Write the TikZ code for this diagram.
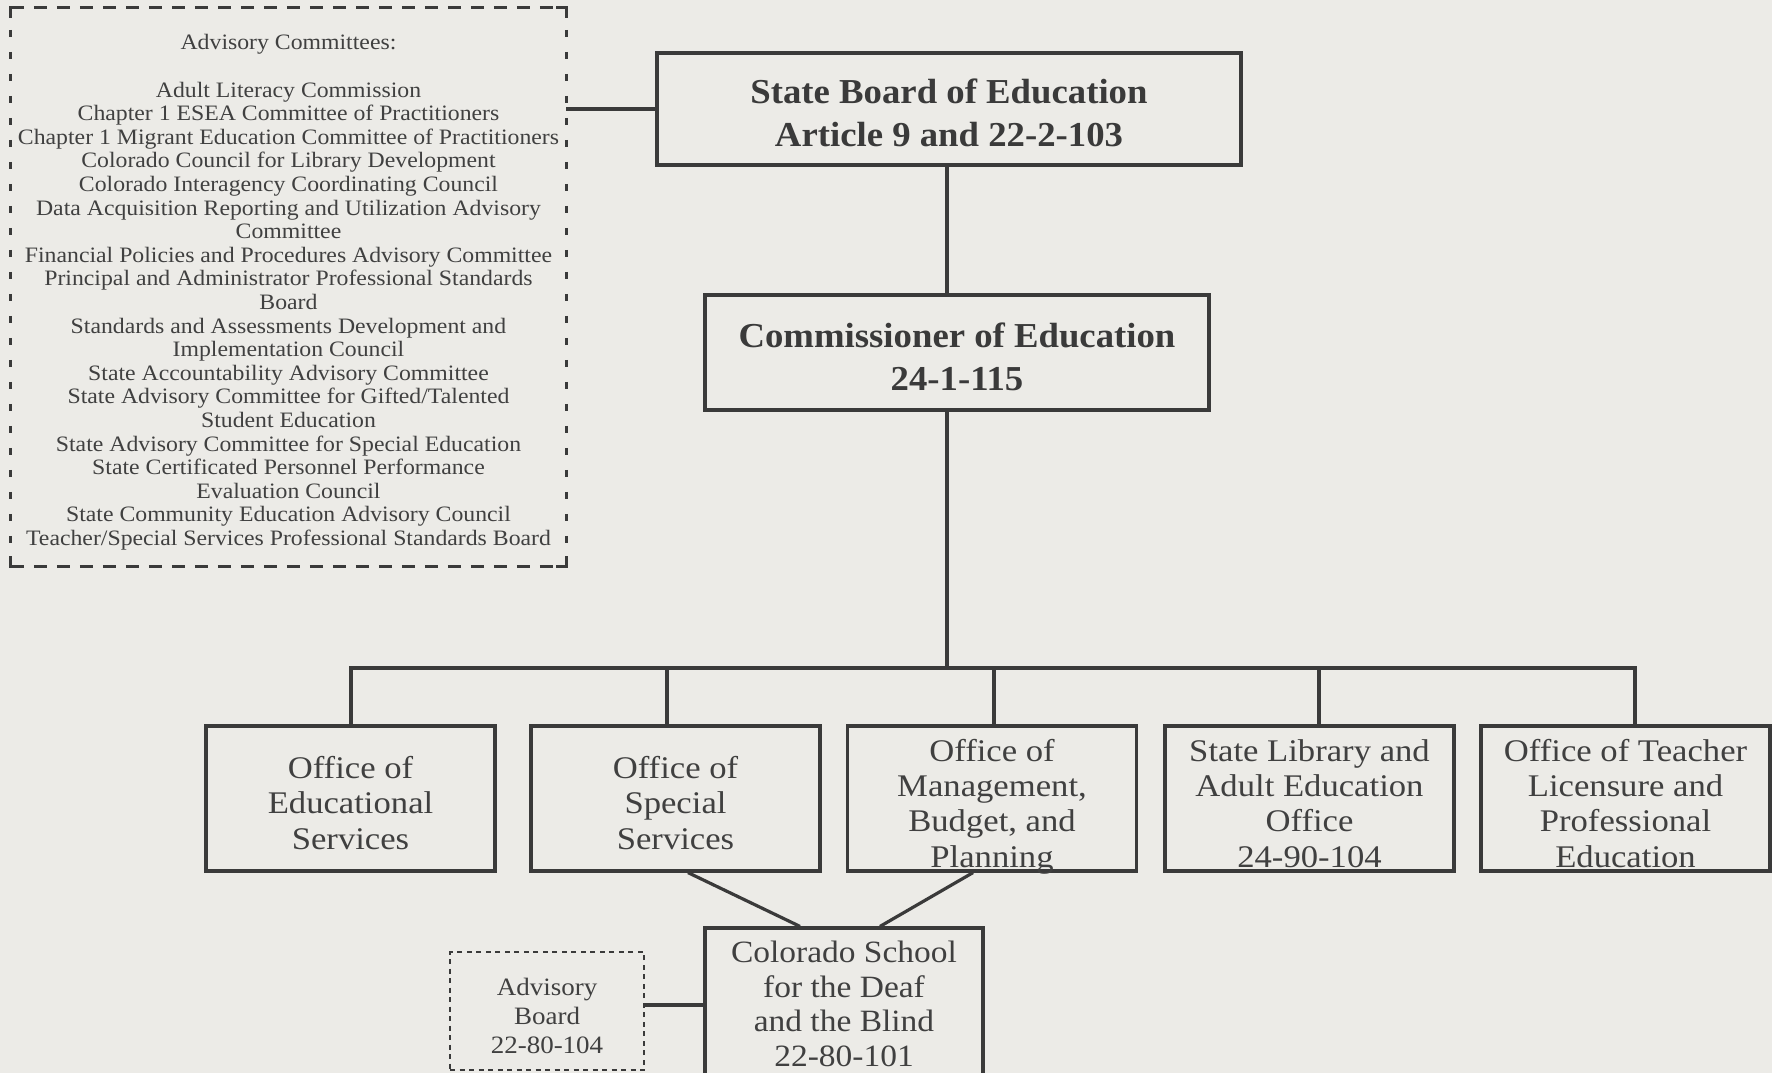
\documentclass[tikz,border=0pt]{standalone}
\usepackage{fontspec}
\setmainfont{Liberation Serif}
\newfontfamily\listfont[FakeStretch=1.08]{Liberation Serif}
\newfontfamily\boxfont[FakeStretch=1.08]{Liberation Serif}
\newfontfamily\officefont[FakeStretch=1.1]{Liberation Serif}
\newfontfamily\headfont[FakeStretch=1.05]{Liberation Serif}
\usetikzlibrary{calc}
\definecolor{paper}{RGB}{236,235,231}
\definecolor{ink}{RGB}{58,58,58}
\definecolor{txt}{RGB}{64,64,64}
\begin{document}
\begin{tikzpicture}[x=1pt,y=-1pt,
  solidbox/.style={draw=ink, line width=3.2pt, inner sep=0pt, align=center, text=txt},
  headbox/.style={solidbox, line width=3.8pt, text=ink, font=\headfont\bfseries\fontsize{35}{43}\selectfont},
  officebox/.style={solidbox, minimum width=289pt, minimum height=145pt, font=\officefont\fontsize{31.5}{35.3}\selectfont},
  threeline/.style={officebox, text height=111pt, text depth=10pt},
  fourline/.style={officebox, text height=139pt, text depth=2pt},
  link/.style={draw=ink, line width=3.2pt},
  longdash/.style={draw=ink, line width=3pt, dash pattern=on 13pt off 10pt},
  shortdash/.style={draw=ink, line width=3pt, dash pattern=on 7pt off 15pt},
  dotdash/.style={draw=ink, line width=2.8pt, dash pattern=on 5pt off 4.5pt}
]
\fill[paper] (0,0) rectangle (1772,1073);
\useasboundingbox (0,0) rectangle (1772,1073);
\clip (0,0) rectangle (1772,1073);

% advisory committees (dashed frame drawn below)
\node[inner sep=0pt, minimum width=555pt, minimum height=558pt, align=center, text=txt,
      font=\listfont\fontsize{22}{23.6}\selectfont, text height=527pt, text depth=10pt]
  (adv) at (288.5,287) {Advisory Committees:\\[23.6pt]
Adult Literacy Commission\\
Chapter 1 ESEA Committee of Practitioners\\
Chapter 1 Migrant Education Committee of Practitioners\\
Colorado Council for Library Development\\
Colorado Interagency Coordinating Council\\
Data Acquisition Reporting and Utilization Advisory\\
Committee\\
Financial Policies and Procedures Advisory Committee\\
Principal and Administrator Professional Standards\\
Board\\
Standards and Assessments Development and\\
Implementation Council\\
State Accountability Advisory Committee\\
State Advisory Committee for Gifted/Talented\\
Student Education\\
State Advisory Committee for Special Education\\
State Certificated Personnel Performance\\
Evaluation Council\\
State Community Education Advisory Council\\
Teacher/Special Services Professional Standards Board};
\draw[longdash] (adv.north west) -- (adv.north east);
\draw[longdash] (adv.south west) -- (adv.south east);
\draw[shortdash] (adv.north west) -- (adv.south west);
\draw[shortdash] (adv.north east) -- (adv.south east);
\draw[ink, line width=3pt] ([yshift=-10pt]adv.north west) -- (adv.north west) -- ([xshift=10pt]adv.north west);
\draw[ink, line width=3pt] ([yshift=-10pt]adv.north east) -- (adv.north east) -- ([xshift=-10pt]adv.north east);
\draw[ink, line width=3pt] ([yshift=10pt]adv.south west) -- (adv.south west) -- ([xshift=10pt]adv.south west);
\draw[ink, line width=3pt] ([yshift=10pt]adv.south east) -- (adv.south east) -- ([xshift=-10pt]adv.south east);

% top boxes
\node[headbox, minimum width=584pt, minimum height=112pt, text height=84pt, text depth=10pt]
  (sbe) at (949,109) {State Board of Education\\Article 9 and 22-2-103};
\node[headbox, minimum width=504pt, minimum height=115pt, text height=85pt, text depth=10pt]
  (com) at (957,352.5) {Commissioner of Education\\24-1-115};

% offices
\node[threeline] (ed)  at (350.5,798.5) {Office of\\Educational\\Services};
\node[threeline] (sp)  at (675.5,798.5) {Office of\\Special\\Services};
\node[fourline]  (mg)  at (992,798.5)   {Office of\\Management,\\Budget, and\\Planning};
\node[fourline]  (lib) at (1309.5,798.5) {State Library and\\Adult Education\\Office\\24-90-104};
\node[fourline]  (tch) at (1625.5,798.5) {Office of Teacher\\Licensure and\\Professional\\Education};

% school and its advisory board
\node[solidbox, minimum width=278pt, minimum height=182pt, font=\boxfont\fontsize{31}{34.5}\selectfont,
      text height=104pt, text depth=10pt]
  (cs) at (844,1019) {Colorado School\\for the Deaf\\and the Blind\\22-80-101};
\node[dotdash, inner sep=0pt, align=center, text=txt, minimum width=194pt, minimum height=118pt,
      font=\boxfont\fontsize{25}{29}\selectfont, text height=94pt, text depth=10pt]
  (advb) at (547,1011) {Advisory\\Board\\22-80-104};

% connectors
\coordinate (bus) at (947,668);
\coordinate (b1) at (351,668);
\coordinate (b2) at (667,668);
\coordinate (b3) at (994,668);
\coordinate (b4) at (1319,668);
\coordinate (b5) at (1635,668);

\draw[link] (sbe.west) -- (sbe.west -| adv.east);
\draw[link] ([xshift=-2pt]sbe.south) -- ([xshift=-2pt]sbe.south |- com.north);
\draw[link] (com.south -| bus) -- (bus);
\draw[link] (b1 |- ed.north) -- (b1) -- (b5) -- (b5 |- tch.north);
\draw[link] (b2) -- (b2 |- sp.north);
\draw[link] (b3) -- (b3 |- mg.north);
\draw[link] (b4) -- (b4 |- lib.north);
\draw[link] ([xshift=12.5pt]sp.south) -- ([xshift=-44pt]cs.north);
\draw[link] ([xshift=-19pt]mg.south) -- ([xshift=36pt]cs.north);
\draw[link] ([yshift=6pt]advb.east) -- ([yshift=6pt]advb.east -| cs.west);
\end{tikzpicture}
\end{document}
